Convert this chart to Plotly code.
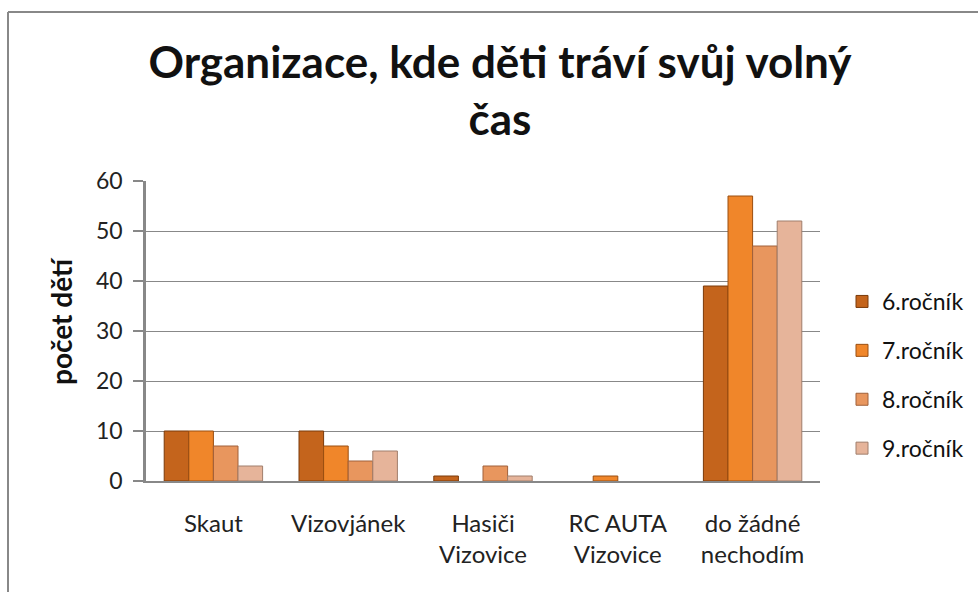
import plotly.graph_objects as go

categories = ["Skaut", "Vizovjánek", "Hasiči<br>Vizovice", "RC AUTA<br>Vizovice", "do žádné<br>nechodím"]
series_names = ["6.ročník", "7.ročník", "8.ročník", "9.ročník"]
rocnik6 = [10, 10, 1, 0, 39]
rocnik7 = [10, 7, 0, 1, 57]
rocnik8 = [7, 4, 3, 0, 47]
rocnik9 = [3, 6, 1, 0, 52]
y_ticks = [0, 10, 20, 30, 40, 50, 60]

colors = ["#C4641C", "#F0862A", "#E8965E", "#E6B49A"]
line_colors = ["#7A3A0A", "#9A4E10", "#A0603A", "#A07E6C"]

W, H = 978, 592
L, R, T, B = 146, 158, 181, 111
pw, ph = W - L - R, H - T - B

def px(x):
    return (x - L) / pw

def py(y):
    return (H - B - y) / ph

fig = go.Figure()
for i, (name, vals) in enumerate(zip(series_names, [rocnik6, rocnik7, rocnik8, rocnik9])):
    fig.add_trace(go.Bar(
        x=categories, y=vals, name=name, legendgroup=name,
        marker=dict(color=colors[i],
                    line=dict(color=line_colors[i], width=[1 if v > 0 else 0 for v in vals])),
    ))

font = "Lato, 'Open Sans', sans-serif"
fig.update_layout(
    width=W, height=H,
    margin=dict(l=L, r=R, t=T, b=B, autoexpand=False),
    paper_bgcolor="white", plot_bgcolor="white",
    barmode="group", bargap=0.27, bargroupgap=0,
    font=dict(family=font, size=22, color="#222"),
    title=dict(text="<b>Organizace, kde děti tráví svůj volný<br>čas</b>",
               x=500 / W, xref="container", xanchor="center",
               y=1 - 78 / H, yanchor="top",
               font=dict(family=font, size=44, color="#111")),
    legend=dict(x=px(842), y=py(280), xanchor="left", yanchor="top",
                traceorder="grouped", tracegroupgap=16,
                font=dict(family=font, size=23, color="#111"),
                itemwidth=30, bgcolor="rgba(0,0,0,0)"),
    showlegend=True,
)
fig.update_xaxes(showline=True, linecolor="#888", linewidth=1.5,
                 tickfont=dict(family=font, size=24, color="#222"),
                 ticks="", showgrid=False, ticklabelstandoff=20)
fig.update_yaxes(range=[0, 60], tickvals=y_ticks, showgrid=True, gridcolor="#888",
                 gridwidth=1.2, showline=True, linecolor="#888", linewidth=2.5,
                 ticks="outside", ticklen=10, tickcolor="#888", tickwidth=1.5,
                 tickfont=dict(family=font, size=23, color="#222"),
                 ticklabelstandoff=6,
                 zeroline=False)

fig.add_annotation(text="<b>počet dětí</b>", xref="paper", yref="paper",
                   x=px(61), y=py(321), textangle=-90, showarrow=False,
                   xanchor="center", yanchor="middle",
                   font=dict(family=font, size=28, color="#111"))

# outer chart frame (left and top edges visible)
fig.add_shape(type="line", xref="paper", yref="paper",
              x0=px(8), x1=px(8), y0=py(12), y1=py(600),
              line=dict(color="#888", width=2))
fig.add_shape(type="line", xref="paper", yref="paper",
              x0=px(8), x1=px(990), y0=py(12), y1=py(12),
              line=dict(color="#888", width=2))

fig.write_html("out.html", config={"displayModeBar": False},
               post_script="document.body.style.margin='0';")
